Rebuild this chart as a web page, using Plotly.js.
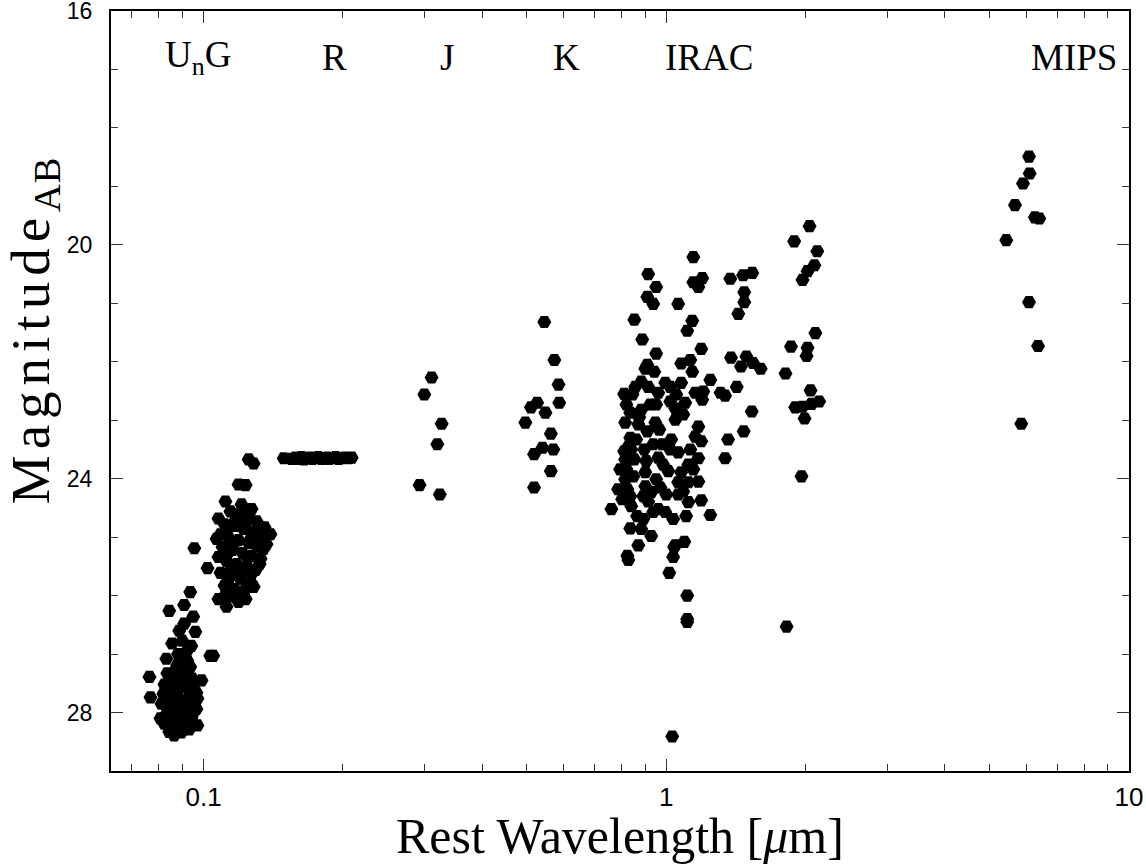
<!DOCTYPE html>
<html>
<head>
<meta charset="utf-8">
<script src="https://cdn.plot.ly/plotly-3.0.1.min.js"></script>
<style>html,body{margin:0;padding:0;background:#fff;}#chart{width:1146px;height:865px;}</style>
</head>
<body>
<div id="chart"></div>
<script>
// ---- Data: rest wavelength (micron) and AB magnitude per band ----
const unLam = [0.0936,0.0908,0.0843,0.0950,0.0886,0.0960,0.0899,0.0922,0.1034,0.1049,0.0831,0.0922,0.0936,0.0764,0.0990,0.0768,0.0864,0.0955,0.0970,0.0807,
  0.0835,0.0868,0.0904,0.0945,0.0823,0.0855,0.0890,0.0927,0.0965,0.0819,0.0843,0.0877,0.0913,0.0950,0.0827,0.0860,0.0895,0.0931,0.0835,0.0868,0.0904,0.0941,0.0847,0.0881,0.0918,0.0860,0.0895,0.0913,0.0877,
  0.0843,0.0913,0.0950,0.0811,0.0877,0.0922,0.0965,0.0823,0.0904,0.0931,0.0843,0.0868,0.0881,0.0941,0.0855,0.0908,0.0835,0.0970];
const unMag = [25.94,26.16,26.26,26.36,26.60,26.62,26.77,26.94,27.03,27.03,27.08,27.11,27.22,27.39,27.45,27.74,28.39,27.98,28.22,28.10,
  27.33,27.28,27.35,27.42,27.52,27.49,27.56,27.59,27.66,27.68,27.73,27.71,27.78,27.79,27.86,27.90,27.88,27.94,28.00,28.03,28.07,28.10,28.17,28.20,28.24,28.31,28.34,27.15,27.19,
  27.59,27.50,27.59,27.85,27.97,28.02,27.94,28.19,28.19,28.29,28.33,27.42,27.00,26.86,26.82,26.48,27.76,27.76];

const gLam = [0.1252,0.1283,0.1190,0.1233,0.1115,0.1208,0.1270,0.1395,0.0955,0.1020,0.1348,0.1077,0.1121,0.1233,0.1077,
  0.1143,0.1190,0.1252,0.1302,0.1110,0.1166,0.1220,0.1283,0.1335,0.1132,0.1190,0.1252,0.1302,0.1099,0.1155,0.1214,0.1270,0.1328,0.1121,0.1178,0.1239,0.1296,0.1088,0.1143,0.1202,0.1264,0.1110,0.1166,0.1226,0.1283,0.1143,0.1190,0.1355,0.1368,0.1067,0.1077,
  0.1172,0.1233,0.1126,0.1264,0.1160,0.1328,0.1126,0.1245,0.1208,0.1149,0.1270,0.1322,0.1126,0.1245,0.1196,0.1110,0.1088,0.1302,0.1214,0.1149];
const gMag = [23.67,23.74,24.10,24.11,24.39,24.44,24.52,24.95,25.19,25.53,25.20,24.68,26.19,26.06,26.06,
  24.56,24.61,24.66,24.73,24.78,24.81,24.86,24.91,24.98,25.00,25.05,25.10,25.15,25.17,25.22,25.27,25.32,25.37,25.41,25.46,25.51,25.56,25.61,25.66,25.72,25.77,25.83,25.89,25.92,25.85,26.01,26.11,24.83,25.12,25.03,25.34,
  24.71,24.76,24.88,25.03,25.12,25.17,25.29,25.37,25.58,25.54,25.63,25.46,25.77,25.85,25.94,26.01,24.95,24.95,24.57,25.97];

const rLam = [0.149,0.155,0.158,0.160,0.163,0.165,0.168,0.170,0.172,0.175,0.177,0.180,0.182,0.185,0.187,0.190,0.193,0.196,0.199,0.202,0.206,0.209];
const rMag = [23.65,23.66,23.64,23.66,23.63,23.67,23.65,23.64,23.66,23.65,23.63,23.66,23.65,23.64,23.66,23.65,23.63,23.66,23.65,23.64,23.65,23.64];

const jLam = [0.311,0.300,0.327,0.320,0.293,0.324];
const jMag = [22.27,22.56,23.06,23.41,24.11,24.27];

const kLam = [0.545,0.573,0.585,0.587,0.526,0.510,0.548,0.496,0.563,0.540,0.570,0.518,0.563,0.518];
const kMag = [21.32,21.97,22.39,22.70,22.70,22.78,22.87,23.04,23.23,23.47,23.50,23.58,23.87,24.15];

const irac1Lam = [1.144,0.914,0.951,0.910,0.937,1.061,0.853,1.138,1.110,0.887,1.144,1.173,1.196,0.951,0.910,0.901,1.077,1.127,1.138,1.190,
  0.883,0.857,0.811,0.914,0.995,1.020,0.961,1.077,1.155,1.202,1.196,1.099,1.020,1.046,0.951,0.883,0.836,0.815,0.874,0.947,
  1.046,1.088,1.173,0.910,0.836,1.025,1.155,1.190,0.840,1.020,1.061,0.961,0.815,0.905,1.173,0.820,0.901,1.010,1.077,0.815,
  0.951,1.173,0.901,1.061,1.116,0.836,0.892,0.928,1.061,1.190,1.116,0.761,0.840,0.914,0.865,0.937,0.995,1.035,1.104,0.836,
  0.883,0.928,0.870,1.046,1.094,0.824,0.828,1.035,1.040,1.015,1.110,1.110,1.110,1.030,
  0.820,0.828,0.811,0.824,0.849,0.870,0.937,0.966,0.985,1.000,1.127,1.144,0.961,0.892,0.787,
  0.795,0.803,0.853,0.861,0.845,0.896,0.980,1.116,1.088,0.971,0.942,1.051,0.923];
const irac1Mag = [20.21,20.50,20.72,20.89,21.01,21.01,21.28,21.30,21.47,21.62,20.64,20.72,20.57,21.86,22.05,22.12,22.03,21.97,22.17,21.78,
  22.34,22.43,22.55,22.43,22.36,22.43,22.53,22.36,22.53,22.51,22.65,22.70,22.68,22.80,22.73,22.82,22.87,23.04,22.95,23.04,
  22.99,22.90,23.11,23.19,23.30,23.33,23.28,23.36,23.50,23.50,23.55,23.64,23.67,23.70,23.65,23.84,23.89,23.87,23.89,24.01,
  24.01,24.05,24.13,24.06,24.06,24.30,24.30,24.23,24.27,24.37,24.40,24.52,24.47,24.39,24.64,24.57,24.57,24.69,24.64,24.85,
  24.86,24.98,25.14,25.14,25.08,25.32,25.39,25.34,25.17,25.61,26.00,26.45,26.40,28.41,
  22.73,23.45,23.53,24.18,23.96,23.07,23.41,23.16,23.76,24.27,23.50,23.84,24.52,24.69,24.18,
  23.84,24.35,23.67,23.33,22.56,23.50,23.41,23.76,24.22,24.15,22.17,22.56,22.73];

const irac2Lam = [1.375,1.466,1.534,1.474,1.474,1.431,1.380,1.490,1.450,1.540,1.600,1.420,1.530,1.470,1.360,1.340,1.245,1.340,1.310,1.245];
const irac2Mag = [20.58,20.52,20.48,20.81,20.98,21.18,21.93,21.91,22.08,22.02,22.12,22.43,22.85,23.19,23.33,23.65,22.31,22.58,22.53,24.62];

const irac34Lam = [2.04,1.89,2.12,2.09,2.02,1.97,2.10,1.86,2.02,2.01,1.81,2.05,2.14,2.06,1.97,1.90,1.99,1.96,1.82];
const irac34Mag = [19.68,19.94,20.11,20.35,20.45,20.60,21.51,21.74,21.76,21.90,22.20,22.49,22.68,22.72,22.77,22.78,22.97,23.96,26.53];

const mipsLam = [6.08,6.10,5.90,5.67,6.26,6.40,5.43,6.08,6.36,5.85];
const mipsMag = [18.49,18.78,18.95,19.32,19.53,19.55,19.92,20.98,21.73,23.06];

const bandLabels = ['U<sub>n</sub>G','R','J','K','IRAC','MIPS'];
const bandLabelLam = [0.0975,0.192,0.335,0.609,1.238,7.6];

const xTitle = 'Rest Wavelength [<i>μ</i>m]';
const yTitle = 'Magnitude<sub>AB</sub>';

// ---- Build traces ----
const groups = [[unLam,unMag],[gLam,gMag],[rLam,rMag],[jLam,jMag],[kLam,kMag],[irac1Lam,irac1Mag],[irac2Lam,irac2Mag],[irac34Lam,irac34Mag],[mipsLam,mipsMag]];
const traces = groups.map(g => ({
  type:'scatter', mode:'markers', x:g[0], y:g[1],
  marker:{symbol:'hexagon2', size:14, color:'#000', line:{width:0}},
  hoverinfo:'x+y', showlegend:false
}));

const serif = 'Liberation Serif, Times New Roman, serif';
const annotations = bandLabels.map((t,i)=>({
  text:t, x:Math.log10(bandLabelLam[i]), y:16.8, xref:'x', yref:'y',
  showarrow:false, xanchor:'center', yanchor:'middle',
  font:{family:serif, size:37, color:'#000'}
}));
annotations.push({
  text:xTitle, xref:'paper', yref:'paper', x:0.5, y:-0.0855,
  showarrow:false, xanchor:'center', yanchor:'middle',
  font:{family:serif, size:50, color:'#000'}
});
annotations.push({
  text:yTitle, xref:'paper', yref:'paper', x:-0.0756, y:0.580, textangle:-90,
  showarrow:false, xanchor:'center', yanchor:'middle',
  font:{family:serif, size:55, color:'#000'}
});

const axisCommon = {
  showline:true, linecolor:'#000', linewidth:2, mirror:'ticks',
  ticks:'inside', tickcolor:'#333', tickwidth:1, ticklen:12,
  showgrid:false, zeroline:false, ticklabeloverflow:'allow'
};

const layout = {
  width:1146, height:865,
  margin:{l:111, r:17, t:11, b:94},
  paper_bgcolor:'#fff', plot_bgcolor:'#fff',
  xaxis:Object.assign({}, axisCommon, {
    type:'log', range:[-1.2, 1.0],
    tickvals:[0.1,1,10], ticktext:['0.1','1','10'],
    minor:{ticks:'inside', ticklen:7, tickcolor:'#333', tickwidth:1, dtick:'D1', showgrid:false},
    tickfont:{family:'Liberation Sans Narrow, Arial Narrow, Liberation Sans, Arial, sans-serif', size:26, color:'#000'},
    ticklabelstandoff:2
  }),
  yaxis:Object.assign({}, axisCommon, {
    range:[29, 16],
    tickvals:[16,20,24,28],
    minor:{ticks:'inside', ticklen:7, tickcolor:'#333', tickwidth:1, dtick:1, showgrid:false},
    tickfont:{family:'Liberation Sans, Arial, sans-serif', size:23, color:'#000'},
    ticklabelstandoff:12
  }),
  annotations:annotations
};

Plotly.newPlot('chart', traces, layout, {displayModeBar:false, staticPlot:true}).then(()=>{
  document.querySelectorAll('.annotation-text').forEach(el=>{
    if (el.textContent.indexOf('Magnitude') === 0) {
      el.style.letterSpacing = '6px';
      el.querySelectorAll('tspan').forEach(ts=>{
        if (ts.textContent === 'AB') ts.style.letterSpacing = '1px';
      });
    }
  });
});
</script>
</body>
</html>
